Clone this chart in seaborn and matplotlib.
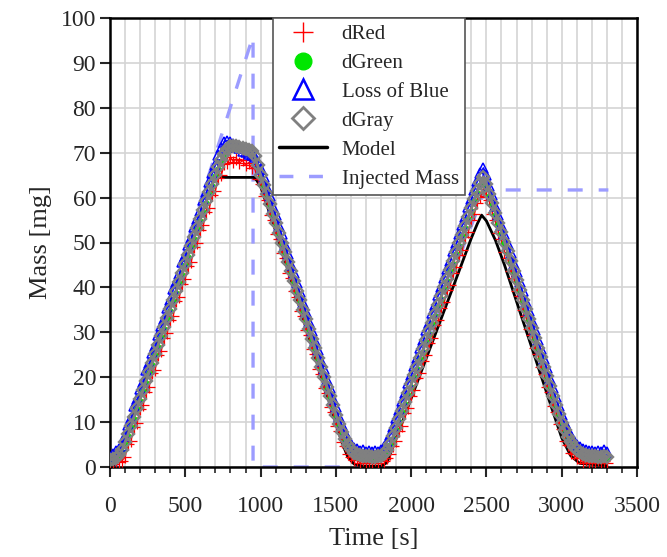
import numpy as np
import pandas as pd
import matplotlib
matplotlib.use("Agg")
import matplotlib.pyplot as plt
from matplotlib.lines import Line2D
from matplotlib.ticker import MultipleLocator
import seaborn as sns

# ---------------- data ----------------
time_s = np.arange(0, 3301, 20)

d_gray = [
    1.6, 1.7, 2.0, 2.6, 3.8, 5.5, 7.3, 9.2, 11.2, 13.2,
    15.2, 17.2, 19.2, 21.2, 23.2, 25.2, 27.2, 29.2, 31.2, 33.2,
    35.2, 37.2, 39.2, 41.2, 43.2, 45.2, 47.2, 49.2, 51.2, 53.2,
    55.2, 57.2, 59.2, 61.2, 63.1, 65.0, 66.8, 68.4, 69.8, 70.9,
    71.5, 71.6, 71.4, 71.2, 71.0, 70.8, 70.6, 70.3, 69.2, 67.2,
    65.0, 62.9, 60.7, 58.6, 56.4, 54.3, 52.2, 50.0, 47.9, 45.7,
    43.6, 41.5, 39.3, 37.2, 35.0, 32.9, 30.8, 28.6, 26.5, 24.3,
    22.2, 20.1, 17.9, 15.8, 13.7, 11.6, 9.6, 7.8, 6.2, 4.9,
    3.9, 3.2, 2.8, 2.6, 2.5, 2.4, 2.4, 2.3, 2.3, 2.4,
    2.5, 2.9, 3.8, 5.1, 6.8, 8.6, 10.6, 12.5, 14.5, 16.4,
    18.4, 20.4, 22.3, 24.3, 26.2, 28.2, 30.2, 32.1, 34.1, 36.0,
    38.0, 40.0, 41.9, 43.9, 45.8, 47.8, 49.8, 51.7, 53.7, 55.6,
    57.6, 59.6, 61.5, 63.3, 64.6, 63.0, 60.9, 58.7, 56.6, 54.4,
    52.3, 50.2, 48.0, 45.9, 43.7, 41.6, 39.5, 37.3, 35.2, 33.0,
    30.9, 28.8, 26.6, 24.5, 22.3, 20.2, 18.1, 15.9, 13.8, 11.8,
    9.9, 8.2, 6.7, 5.5, 4.5, 3.8, 3.3, 2.9, 2.7, 2.5,
    2.4, 2.4, 2.3, 2.3, 2.4, 2.3,
]

d_green = [
    1.3, 1.5, 1.6, 2.3, 3.3, 5.2, 6.8, 8.9, 10.7, 12.9,
    14.8, 16.9, 18.7, 20.9, 22.7, 24.9, 26.7, 28.9, 30.7, 32.9,
    34.7, 36.9, 38.7, 40.9, 42.7, 44.9, 46.7, 48.9, 50.7, 52.9,
    54.7, 56.9, 58.7, 60.9, 62.6, 64.7, 66.3, 68.1, 69.3, 70.5,
    70.9, 71.1, 70.8, 70.9, 70.5, 70.4, 70.0, 69.9, 68.8, 66.8,
    64.5, 62.5, 60.2, 58.2, 55.9, 53.9, 51.7, 49.6, 47.4, 45.3,
    43.1, 41.1, 38.8, 36.8, 34.5, 32.5, 30.3, 28.2, 26.0, 23.9,
    21.7, 19.7, 17.4, 15.4, 13.2, 11.2, 9.1, 7.4, 5.7, 4.5,
    3.4, 2.9, 2.3, 2.3, 2.0, 2.1, 1.9, 2.0, 1.8, 2.1,
    2.0, 2.6, 3.3, 4.8, 6.3, 8.3, 10.1, 12.2, 14.0, 16.1,
    17.9, 20.1, 21.8, 24.0, 25.7, 27.9, 29.7, 31.8, 33.6, 35.7,
    37.5, 39.7, 41.4, 43.6, 45.3, 47.5, 49.3, 51.4, 53.2, 55.3,
    57.1, 59.3, 61.0, 62.9, 64.0, 62.6, 60.4, 58.4, 56.1, 54.1,
    51.8, 49.9, 47.5, 45.6, 43.2, 41.3, 39.0, 37.0, 34.7, 32.7,
    30.4, 28.5, 26.1, 24.2, 21.8, 19.9, 17.6, 15.6, 13.3, 11.5,
    9.4, 7.9, 6.2, 5.2, 4.0, 3.5, 2.8, 2.6, 2.2, 2.2,
    1.9, 2.1, 1.8, 2.0, 1.9, 2.0,
]

loss_blue = [
    2.3, 2.9, 3.5, 3.9, 4.6, 6.9, 9.4, 11.0, 13.5, 15.1,
    17.4, 19.0, 21.5, 23.1, 25.5, 27.0, 29.4, 31.3, 33.0, 35.5,
    37.1, 39.6, 41.2, 43.0, 45.6, 47.1, 49.5, 51.0, 53.4, 55.3,
    57.0, 59.5, 61.2, 63.4, 65.5, 67.3, 69.4, 71.0, 72.4, 72.7,
    72.3, 71.9, 71.3, 71.0, 70.4, 70.1, 69.6, 69.4, 69.0, 68.0,
    66.3, 64.6, 62.2, 60.3, 57.9, 56.1, 53.7, 51.8, 49.4, 47.5,
    45.0, 43.2, 40.9, 38.9, 36.5, 34.6, 32.3, 30.4, 28.0, 26.1,
    23.7, 21.8, 19.4, 17.5, 15.2, 13.3, 11.1, 9.4, 7.6, 6.3,
    5.1, 4.3, 3.9, 3.6, 3.7, 3.4, 3.6, 3.3, 3.5, 3.4,
    3.7, 4.4, 5.6, 7.2, 8.9, 10.9, 12.6, 14.8, 16.5, 18.7,
    20.4, 22.6, 24.3, 26.5, 28.2, 30.5, 32.1, 34.4, 36.1, 38.3,
    40.0, 42.2, 44.1, 45.9, 48.1, 49.8, 52.0, 53.9, 55.7, 57.9,
    59.7, 61.8, 63.7, 65.5, 66.6, 65.0, 62.6, 60.5, 58.2, 56.2,
    53.9, 52.0, 49.6, 47.7, 45.3, 43.4, 41.1, 39.1, 36.8, 34.8,
    32.5, 30.6, 28.2, 26.3, 24.0, 22.0, 19.7, 17.7, 15.5, 13.6,
    11.6, 9.8, 8.3, 7.0, 5.9, 5.0, 4.5, 3.9, 3.8, 3.5,
    3.6, 3.3, 3.6, 3.4, 3.7, 3.3,
]

d_red = [
    1.0, 0.6, 1.3, 1.2, 1.4, 2.2, 5.1, 5.9, 8.9, 9.8,
    12.9, 13.7, 16.8, 17.9, 20.9, 21.7, 24.9, 25.8, 28.7, 29.9,
    32.8, 33.7, 36.9, 37.8, 40.7, 41.9, 44.8, 45.7, 48.9, 49.8,
    52.7, 53.9, 56.8, 57.7, 60.6, 61.5, 64.3, 65.0, 67.5, 67.6,
    69.0, 67.9, 68.7, 67.6, 68.3, 67.2, 67.8, 66.6, 66.5, 64.2,
    63.0, 60.4, 59.4, 56.2, 55.0, 51.9, 50.8, 47.6, 46.5, 43.3,
    42.2, 39.1, 37.9, 34.8, 33.6, 30.5, 29.4, 26.2, 25.1, 21.9,
    20.8, 17.7, 16.5, 13.4, 12.3, 9.2, 8.1, 5.6, 4.6, 2.8,
    2.3, 1.5, 1.6, 0.9, 1.5, 0.8, 1.4, 0.9, 1.5, 1.0,
    1.6, 1.4, 2.0, 2.9, 4.6, 5.7, 8.1, 9.2, 12.0, 13.1,
    15.9, 17.1, 19.8, 21.0, 23.7, 24.9, 27.7, 28.8, 31.6, 32.7,
    35.5, 36.7, 39.4, 40.6, 43.3, 44.5, 47.3, 48.4, 51.2, 52.3,
    55.1, 56.3, 58.9, 60.1, 62.0, 60.4, 59.4, 56.4, 55.1, 52.1,
    50.8, 47.9, 46.5, 43.6, 42.2, 39.3, 38.0, 35.0, 33.7, 30.7,
    29.4, 26.5, 25.1, 22.2, 20.8, 17.9, 16.6, 13.6, 12.3, 9.5,
    8.4, 5.9, 5.0, 3.2, 2.8, 2.0, 1.9, 1.0, 1.6, 0.8,
    1.4, 0.9, 1.5, 0.8, 1.4, 1.0,
]

model_t = [0, 40, 100, 680, 700, 720, 955, 975, 1000, 1100, 1540, 1580,
           1620, 1680, 1800, 1840, 2300, 2400, 2440, 2468, 2500, 2560,
           2620, 2940, 3000, 3060, 3120, 3300]
model_m = [0.0, 0.8, 5.5, 63.2, 64.2, 64.5, 64.5, 63.8, 62.5, 52.6, 5.5, 2.2,
           0.7, 0.2, 0.2, 1.0, 42.0, 51.0, 54.2, 56.1, 54.8, 50.5,
           45.0, 12.5, 6.5, 2.5, 0.8, 0.3]

inj_t = [0, 40, 950, 950, 1790, 2490, 3310]
inj_m = [0.0, 0.0, 96.0, 0.0, 0.0, 61.7, 61.7]

labels = ["dRed", "dGreen", "Loss of Blue", "dGray", "Model", "Injected Mass"]
x_ticks = [0, 500, 1000, 1500, 2000, 2500, 3000, 3500]
y_ticks = [0, 10, 20, 30, 40, 50, 60, 70, 80, 90, 100]

df = pd.DataFrame({"t": time_s, "red": d_red, "green": d_green,
                   "blue": loss_blue, "gray": d_gray})
df_model = pd.DataFrame({"t": model_t, "m": model_m})
df_inj = pd.DataFrame({"t": inj_t, "m": inj_m})

# ---------------- style ----------------
sns.set_style("white")
plt.rcParams["font.family"] = ["Liberation Serif", "DejaVu Serif"]

RED = "#ff0000"
GREEN = "#00e600"
BLUE = "#0000ff"
GRAY = "#808080"
LAV = "#9c9cff"

fig = plt.figure(figsize=(6.67, 5.57), dpi=100)
ax = fig.add_axes([110 / 667, 90 / 557, 527 / 667, 449 / 557])

# injected mass (behind data)
sns.lineplot(data=df_inj, x="t", y="m", ax=ax, sort=False, estimator=None,
             color=LAV, lw=2.4, zorder=2)
ax.lines[-1].set_dashes([4.5, 4.8])

# model drawn beneath the measured series
sns.lineplot(data=df_model, x="t", y="m", ax=ax, sort=False, estimator=None,
             color="black", lw=2.0, zorder=2.5)

sns.lineplot(data=df, x="t", y="red", ax=ax, estimator=None, color=RED, lw=0.9,
             marker="+", markersize=8.5, mec=RED, mew=0.9, zorder=3)
sns.lineplot(data=df, x="t", y="green", ax=ax, estimator=None, color=GREEN, lw=0.8,
             marker="o", markersize=4, mec=GREEN, mfc=GREEN, mew=0.5, zorder=4)
sns.lineplot(data=df, x="t", y="blue", ax=ax, estimator=None, color=BLUE, lw=1.2,
             marker="^", markersize=6.5, mec=BLUE, mfc="none", mew=1.1, zorder=5)
sns.lineplot(data=df, x="t", y="gray", ax=ax, estimator=None, color=GRAY, lw=2.2,
             marker="D", markersize=6.0, mec=GRAY, mfc="none", mew=1.7, zorder=6)

# ---------------- axes ----------------
ax.set_xlim(0, 3500)
ax.set_ylim(0, 100)
ax.set_xticks(x_ticks)
ax.set_yticks(y_ticks)
ax.xaxis.set_minor_locator(MultipleLocator(100))
ax.grid(which="both", axis="x", color="#d4d4d4", lw=1.2)
ax.grid(which="major", axis="y", color="#d4d4d4", lw=1.2)
ax.set_axisbelow(True)

ax.tick_params(axis="both", which="major", direction="out", length=7, width=1.5,
               labelsize=17, bottom=True, left=True, top=False, right=False)
ax.tick_params(axis="x", which="major", pad=14)
ax.tick_params(axis="y", which="major", pad=3)
ax.tick_params(axis="x", which="minor", direction="out", length=4, width=1.2,
               bottom=True, top=False)
for s in ax.spines.values():
    s.set_color("black")
    s.set_linewidth(1.8)

ax.set_xlabel("Time [s]", fontsize=19, labelpad=8)
ax.set_ylabel("Mass [mg]", fontsize=19, labelpad=6)

handles = [
    Line2D([], [], ls="none", marker="+", markersize=15, mec=RED, mew=1.0),
    Line2D([], [], ls="none", marker="o", markersize=12, mec=GREEN, mfc=GREEN),
    Line2D([], [], ls="none", marker="^", markersize=14, mec=BLUE, mfc="none", mew=1.8),
    Line2D([], [], ls="none", marker="D", markersize=11, mec=GRAY, mfc="none", mew=2.0),
    Line2D([], [], color="black", lw=2.5),
    Line2D([], [], color=LAV, lw=2.5, dashes=[4, 4.5]),
]
leg = ax.legend(handles, labels, loc="upper left", bbox_to_anchor=(0.309, 1.0),
                borderaxespad=0.0, fontsize=15, frameon=True, fancybox=False,
                framealpha=1.0, edgecolor="#555555", handlelength=2.3,
                handletextpad=0.7, labelspacing=0.45, borderpad=0.3)
leg.get_frame().set_linewidth(1.2)
leg.set_zorder(20)

fig.savefig("out.png", dpi=100)
